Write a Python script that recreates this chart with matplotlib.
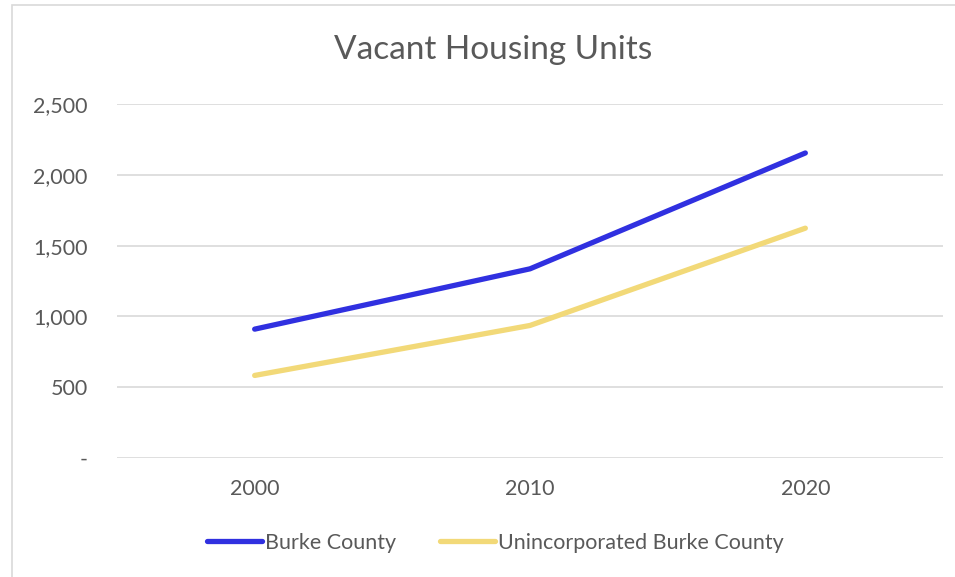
import matplotlib
matplotlib.use("Agg")
import matplotlib.pyplot as plt
from matplotlib.ticker import FuncFormatter
from matplotlib.patches import Rectangle

years = ["2000", "2010", "2020"]
burke = [910, 1336, 2154]
unincorporated = [583, 936, 1623]
y_ticks = [0, 500, 1000, 1500, 2000, 2500]

plt.rcParams['font.family'] = ['Lato', 'DejaVu Sans']
text_color = '#595959'

fig = plt.figure(figsize=(9.55, 5.77), dpi=100)
ax = fig.add_axes([117/955, 1-458/577, (943-117)/955, (458-104)/577])

x = list(range(len(years)))
ax.plot(x, burke, color='#3030E0', lw=3.8, solid_capstyle='round', label='Burke County')
ax.plot(x, unincorporated, color='#F2D978', lw=3.8, solid_capstyle='round',
        label='Unincorporated Burke County')

ax.set_xlim(-0.5, 2.5)
ax.set_ylim(0, 2500)
ax.set_xticks(x)
ax.set_xticklabels(years)
ax.set_yticks(y_ticks)
ax.yaxis.set_major_formatter(FuncFormatter(lambda v, p: '-' if v == 0 else f'{int(v):,}'))
ax.grid(axis='y', color='#D9D9D9', lw=1.2)
ax.set_axisbelow(True)
for s in ax.spines.values():
    s.set_visible(False)
ax.tick_params(length=0, labelsize=15.5, colors=text_color)
ax.tick_params(axis='y', pad=21)
ax.tick_params(axis='x', pad=15)

fig.text(0.516, 1-50/577, 'Vacant Housing Units', ha='center', va='center',
         fontsize=24, color=text_color)

fig.legend(loc='center', bbox_to_anchor=(0.519, 1-543/577), ncol=2, frameon=False,
           fontsize=15.5, labelcolor=text_color, handlelength=2.55, handletextpad=0.14,
           columnspacing=2.05)

# chart border
fig.patches.append(Rectangle((12/955, -0.1), 1.1, 1-5/577+0.1, transform=fig.transFigure,
                             fill=False, edgecolor='#D9D9D9', lw=1.2))

fig.savefig('out.png', dpi=100)
